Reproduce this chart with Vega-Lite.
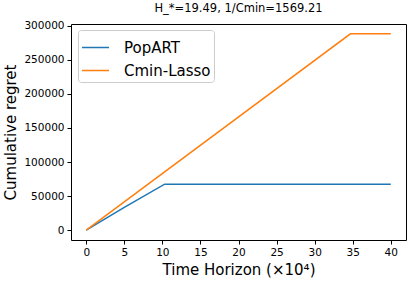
{
  "$schema": "https://vega.github.io/schema/vega-lite/v6.json",
  "autosize": "none",
  "width": 335,
  "height": 216,
  "padding": {"left": 71, "top": 24, "right": 10, "bottom": 49},
  "background": "white",
  "title": {"text": "H_*=19.49, 1/Cmin=1569.21", "fontSize": 11.5, "fontWeight": "normal", "font": "DejaVu Sans", "color": "black", "offset": 6},
  "data": {"values": [
    {"series": "PopART", "t": 0, "regret": 0},
    {"series": "PopART", "t": 5, "regret": 33500},
    {"series": "PopART", "t": 10.3, "regret": 67500},
    {"series": "PopART", "t": 40, "regret": 67500},
    {"series": "Cmin-Lasso", "t": 0, "regret": 0},
    {"series": "Cmin-Lasso", "t": 34.7, "regret": 288000},
    {"series": "Cmin-Lasso", "t": 40, "regret": 288000}
  ]},
  "mark": {"type": "line", "strokeWidth": 1.5, "clip": true},
  "encoding": {
    "x": {"field": "t", "type": "quantitative", "scale": {"domain": [-2, 42], "nice": false, "zero": false},
      "axis": {"values": [0,5,10,15,20,25,30,35,40], "title": "Time Horizon (×10⁴)"}},
    "y": {"field": "regret", "type": "quantitative", "scale": {"domain": [-14400, 302400], "nice": false, "zero": false},
      "axis": {"values": [0,50000,100000,150000,200000,250000,300000], "format": "d", "title": "Cumulative regret"}},
    "color": {"field": "series", "type": "nominal", "sort": null,
      "scale": {"domain": ["PopART", "Cmin-Lasso"], "range": ["#1f77b4", "#ff7f0e"]},
      "legend": {"title": null, "orient": "none", "legendX": 7, "legendY": 6, "symbolType": "stroke", "symbolSize": 729, "symbolStrokeWidth": 1.5,
        "labelFontSize": 15, "labelFont": "DejaVu Sans", "labelColor": "black", "strokeColor": "#cccccc", "fillColor": "white", "cornerRadius": 3, "padding": 3, "rowPadding": -3, "labelOffset": 14}}
  },
  "config": {
    "font": "DejaVu Sans",
    "view": {"stroke": "black", "strokeWidth": 1},
    "axis": {"grid": false, "domain": false, "tickColor": "black", "tickSize": 4, "labelColor": "black", "labelFontSize": 10.5, "labelFont": "DejaVu Sans",
      "titleFont": "DejaVu Sans", "titleFontSize": 15, "titleFontWeight": "normal", "titleColor": "black", "labelPadding": 3},
    "axisY": {"titlePadding": 5},
    "axisX": {"titlePadding": 5}
  }
}
